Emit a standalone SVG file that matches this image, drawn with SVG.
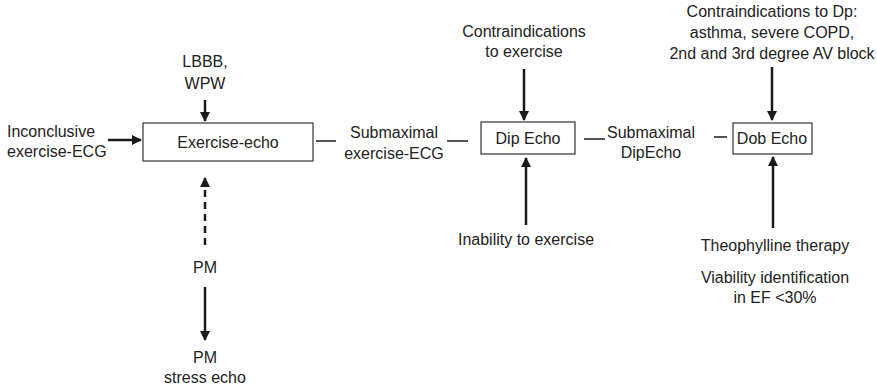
<svg xmlns="http://www.w3.org/2000/svg" width="877" height="389" viewBox="0 0 877 389">
<defs>
<marker id="ah" viewBox="0 0 10 10" refX="9" refY="5" markerWidth="4" markerHeight="4" orient="auto" markerUnits="strokeWidth">
<path d="M0,0 L10,5 L0,10 z" fill="#1a1a1a"/>
</marker>
<style>
text{font-family:"Liberation Sans",Arial,sans-serif;font-size:16px;fill:#222;}
.c{text-anchor:middle;}
.box{fill:#fff;stroke:#333;stroke-width:1.2;}
.arr{stroke:#1a1a1a;stroke-width:2.5;fill:none;marker-end:url(#ah);}
.dash{stroke-dasharray:7,5;}
.ln{stroke:#1a1a1a;stroke-width:1.5;fill:none;}
</style>
</defs>
<rect width="877" height="389" fill="#fff"/>
<g id="connectors">
<line class="arr" x1="108" y1="140" x2="141" y2="140"/>
<line class="arr" x1="205" y1="100" x2="205" y2="121"/>
<line class="arr dash" x1="205" y1="245" x2="205" y2="178"/>
<line class="arr" x1="205" y1="287" x2="205" y2="340"/>
<line class="ln" x1="316" y1="141" x2="336" y2="141"/>
<line class="ln" x1="447" y1="141" x2="468" y2="141"/>
<line class="arr" x1="524" y1="69" x2="524" y2="120"/>
<line class="arr" x1="526" y1="225" x2="526" y2="158"/>
<line class="ln" x1="584" y1="139" x2="605" y2="139"/>
<line class="ln" x1="714" y1="137" x2="727" y2="137"/>
<line class="arr" x1="772" y1="67" x2="772" y2="120"/>
<line class="arr" x1="773" y1="228" x2="773" y2="157"/>
</g>
<g id="exercise-echo">
<rect class="box" x="143" y="123" width="170" height="38"/>
<text class="c" x="228" y="148">Exercise-echo</text>
</g>
<g id="dip-echo">
<rect class="box" x="481" y="122" width="94" height="32"/>
<text class="c" x="528" y="144">Dip Echo</text>
</g>
<g id="dob-echo">
<rect class="box" x="733" y="123" width="79" height="31"/>
<text class="c" x="772" y="144">Dob Echo</text>
</g>
<g id="inconclusive">
<text x="7" y="137">Inconclusive</text>
<text x="7" y="157">exercise-ECG</text>
</g>
<g id="lbbb">
<text class="c" x="205" y="67">LBBB,</text>
<text class="c" x="205" y="89">WPW</text>
</g>
<g id="pm">
<text class="c" x="205" y="273">PM</text>
</g>
<g id="pm-stress">
<text class="c" x="205" y="363">PM</text>
<text class="c" x="205" y="383">stress echo</text>
</g>
<g id="submax-ex">
<text class="c" x="394" y="138">Submaximal</text>
<text class="c" x="394" y="159">exercise-ECG</text>
</g>
<g id="contra-ex">
<text class="c" x="524" y="37">Contraindications</text>
<text class="c" x="524" y="57">to exercise</text>
</g>
<g id="inability">
<text class="c" x="526" y="245">Inability to exercise</text>
</g>
<g id="submax-dip">
<text class="c" x="651" y="138">Submaximal</text>
<text class="c" x="651" y="158">DipEcho</text>
</g>
<g id="contra-dp">
<text class="c" x="772" y="17">Contraindications to Dp:</text>
<text class="c" x="772" y="38">asthma, severe COPD,</text>
<text class="c" x="772" y="59">2nd and 3rd degree AV block</text>
</g>
<g id="theo">
<text class="c" x="775" y="251">Theophylline therapy</text>
</g>
<g id="viability">
<text class="c" x="775" y="283">Viability identification</text>
<text class="c" x="775" y="303">in EF &lt;30%</text>
</g>
</svg>
